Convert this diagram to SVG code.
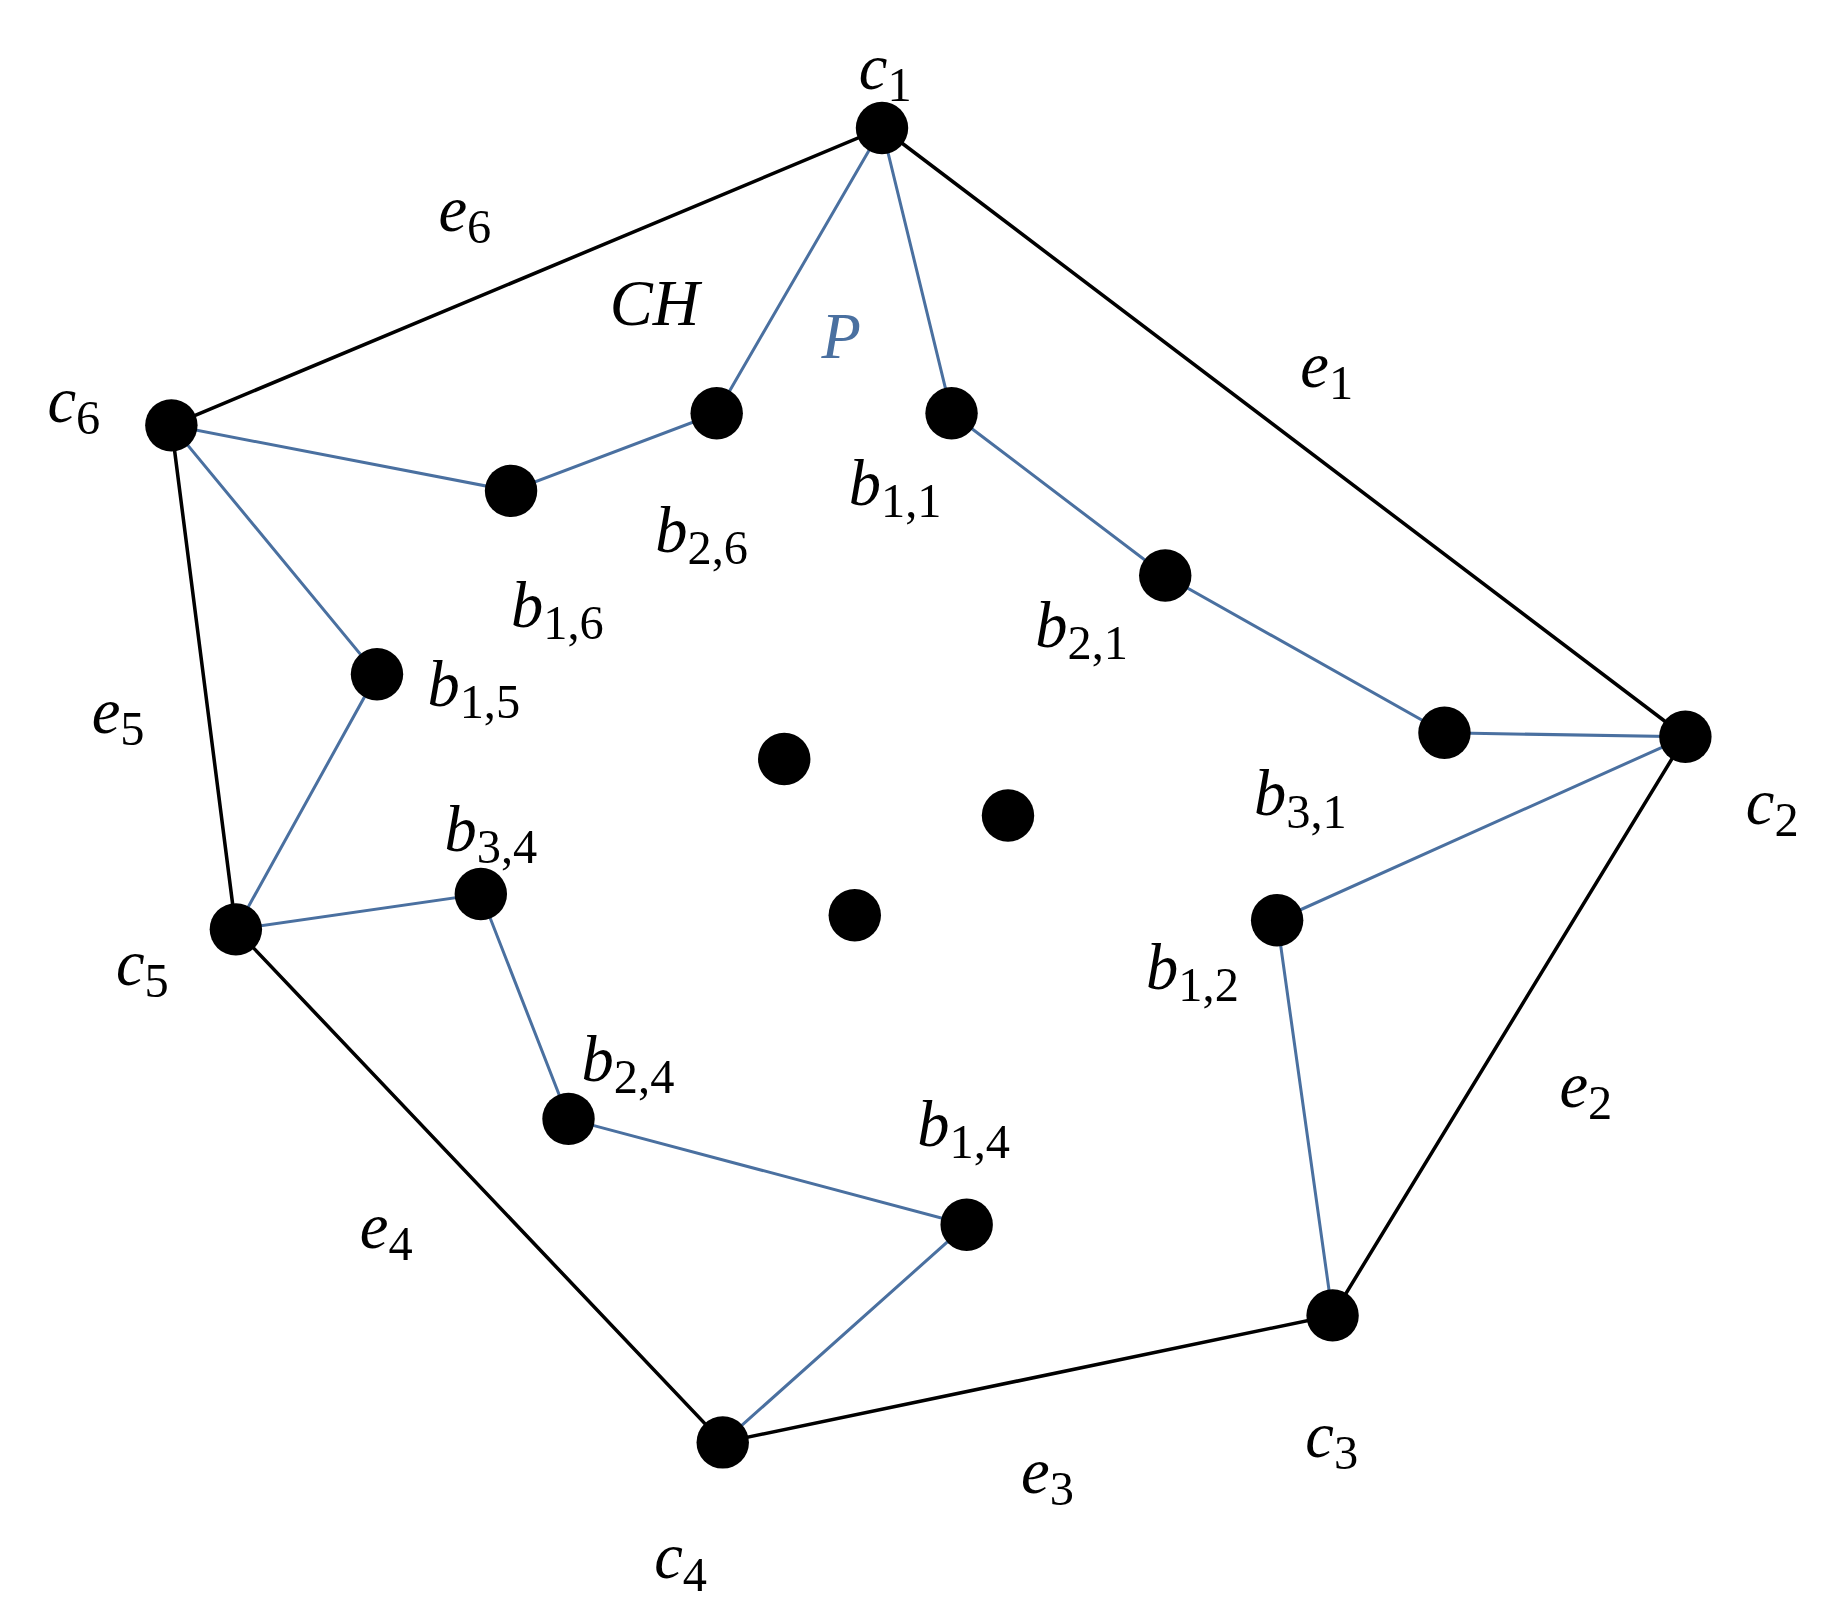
<svg xmlns="http://www.w3.org/2000/svg" width="1846" height="1602" viewBox="0 0 1846 1602">
<style>
.h{stroke:#000;stroke-width:3.5;fill:none}
.p{stroke:#4a70a0;stroke-width:3;fill:none}
.d{fill:#000}
text{font-family:"Liberation Serif",serif;font-style:italic;font-size:64px;fill:#000}
.s{font-size:48px;font-style:normal}
.bl{fill:#4a70a0}
</style>
<g transform="translate(0,4) scale(1.008)">
<g id="connectors">
<polygon class="h" points="875,123 1672,727 1322,1301 717,1427 234,918 170,418"/>
<polyline class="p" points="875,123 944,406 1156,567 1433,723 1672,727 1267,909 1322,1301"/>
<polyline class="p" points="875,123 711,406 507,483 170,418 374,665 234,918 477,883 564,1106 959,1211 717,1427"/>
</g>
<g id="nodes">
<g id="c1"><circle class="d" cx="875" cy="123" r="26"/></g>
<g id="c2"><circle class="d" cx="1672" cy="727" r="26"/></g>
<g id="c3"><circle class="d" cx="1322" cy="1301" r="26"/></g>
<g id="c4"><circle class="d" cx="717" cy="1427" r="26"/></g>
<g id="c5"><circle class="d" cx="234" cy="918" r="26"/></g>
<g id="c6"><circle class="d" cx="170" cy="418" r="26"/></g>
<g id="b11"><circle class="d" cx="944" cy="406" r="26"/></g>
<g id="b21"><circle class="d" cx="1156" cy="567" r="26"/></g>
<g id="b31"><circle class="d" cx="1433" cy="723" r="26"/></g>
<g id="b12"><circle class="d" cx="1267" cy="909" r="26"/></g>
<g id="b14"><circle class="d" cx="959" cy="1211" r="26"/></g>
<g id="b24"><circle class="d" cx="564" cy="1106" r="26"/></g>
<g id="b34"><circle class="d" cx="477" cy="883" r="26"/></g>
<g id="b15"><circle class="d" cx="374" cy="665" r="26"/></g>
<g id="b16"><circle class="d" cx="507" cy="483" r="26"/></g>
<g id="b26"><circle class="d" cx="711" cy="406" r="26"/></g>
<g id="i1"><circle class="d" cx="778" cy="749" r="26"/></g>
<g id="i2"><circle class="d" cx="1000" cy="805" r="26"/></g>
<g id="i3"><circle class="d" cx="848" cy="904" r="26"/></g>
</g>
<g id="labels">
<text x="852" y="84">c<tspan class="s" dy="12">1</tspan></text>
<text x="435" y="225">e<tspan class="s" dy="12">6</tspan></text>
<text x="605" y="318">CH</text>
<text x="815" y="351" class="bl">P</text>
<text x="1290" y="380">e<tspan class="s" dy="12">1</tspan></text>
<text x="47" y="415">c<tspan class="s" dy="12">6</tspan></text>
<text x="842" y="497">b<tspan class="s" dy="12">1,1</tspan></text>
<text x="650" y="544">b<tspan class="s" dy="12">2,6</tspan></text>
<text x="1027" y="638">b<tspan class="s" dy="12">2,1</tspan></text>
<text x="507" y="618">b<tspan class="s" dy="12">1,6</tspan></text>
<text x="91" y="723">e<tspan class="s" dy="12">5</tspan></text>
<text x="424" y="696">b<tspan class="s" dy="12">1,5</tspan></text>
<text x="1244" y="805">b<tspan class="s" dy="12">3,1</tspan></text>
<text x="1732" y="813">c<tspan class="s" dy="12">2</tspan></text>
<text x="441" y="840">b<tspan class="s" dy="12">3,4</tspan></text>
<text x="115" y="973">c<tspan class="s" dy="12">5</tspan></text>
<text x="1137" y="977">b<tspan class="s" dy="12">1,2</tspan></text>
<text x="577" y="1068">b<tspan class="s" dy="12">2,4</tspan></text>
<text x="1547" y="1094">e<tspan class="s" dy="12">2</tspan></text>
<text x="910" y="1133">b<tspan class="s" dy="12">1,4</tspan></text>
<text x="357" y="1234">e<tspan class="s" dy="12">4</tspan></text>
<text x="1295" y="1441">c<tspan class="s" dy="12">3</tspan></text>
<text x="1013" y="1477">e<tspan class="s" dy="12">3</tspan></text>
<text x="649" y="1562">c<tspan class="s" dy="12">4</tspan></text>
</g>
</g>
</svg>
